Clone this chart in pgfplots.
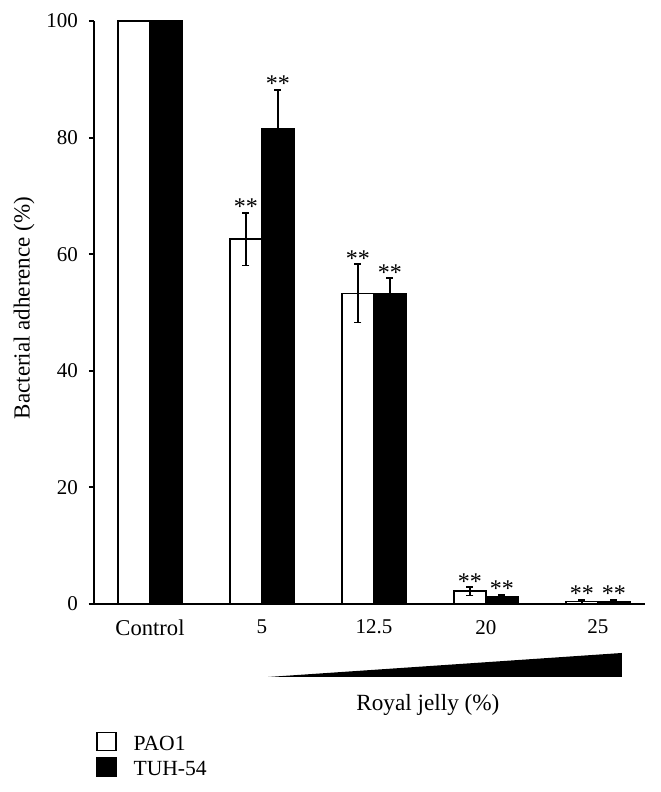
\documentclass[border=0pt]{standalone}
\usepackage{fontspec}
\setmainfont{Liberation Serif}
\usepackage{pgfplots}
\pgfplotsset{compat=1.18}

\begin{document}
\begin{tikzpicture}[font=\fontsize{10.5}{12}\selectfont]
\begin{axis}[
  at={(0,0)}, anchor=south west,
  scale only axis, width=275.5pt, height=291.5pt,
  xmin=-0.5, xmax=4.42, ymin=0, ymax=100,
  clip=false,
  axis x line=bottom, axis y line=left,
  axis line style={line width=1pt, -},
  x axis line style={shorten <=-2.5pt},
  ybar=0pt, bar width=16pt,
  xtick={0,1,2,3,4},
  xticklabels={{\fontsize{11.3}{12}\selectfont Control},5,12.5,20,25},
  xtick style={draw=none},
  ytick={0,20,40,60,80,100},
  tick align=outside,
  major tick length=2.5pt,
  y tick style={line width=1pt, black},
  /pgf/number format/assume math mode=true,
  tick label style={font=\fontsize{10.5}{12}\selectfont},
  yticklabel style={xshift=-2pt},
  xticklabel style={yshift=-2pt},
  xlabel={Royal jelly (\%)},
  every axis x label/.style={at={(axis description cs:0.606,-0.173)}, anchor=center,
    font=\fontsize{11.6}{13}\selectfont},
  legend cell align=left,
  legend style={at={(axis description cs:0.003,-0.2186)}, anchor=north west,
    draw=none, fill=none, inner sep=0pt, row sep=0pt,
    font=\fontsize{10.8}{12}\selectfont},
  legend image code/.code={\draw[#1, line width=0.75pt] (0pt,-3pt) rectangle (9.5pt,6pt);
    \path (16pt,1.5pt);},
  error bars/y dir=both, error bars/y explicit,
  error bars/error bar style={line width=0.75pt, black},
  error bars/error mark options={rotate=90, mark size=1.75pt, line width=0.75pt, black},
]
\addplot[draw=black, fill=white, line width=0.75pt] coordinates {
  (0,100) +- (0,0)
  (1,62.6) +- (0,4.5)
  (2,53.3) +- (0,5.0)
  (3,2.2) +- (0,0.7)
  (4,0.4) +- (0,0.3)
};
\addplot[draw=black, fill=black, line width=0.75pt] coordinates {
  (0,100) +- (0,0)
  (1,81.5) +- (0,6.7)
  (2,53.3) +- (0,2.6)
  (3,1.2) +- (0,0.35)
  (4,0.4) +- (0,0.3)
};
\legend{PAO1,TUH-54}
% significance marks
\begin{scope}[every node/.style={anchor=base, yshift=-1pt, font=\fontsize{12}{13}\selectfont}]
\node[xshift=-8pt] at (axis cs:1,67.1) {**};
\node[xshift=8pt] at (axis cs:1,88.2) {**};
\node[xshift=-8pt] at (axis cs:2,58.3) {**};
\node[xshift=8pt] at (axis cs:2,55.9) {**};
\node[xshift=-8pt] at (axis cs:3,2.9) {**};
\node[xshift=8pt] at (axis cs:3,1.55) {**};
\node[xshift=-8pt] at (axis cs:4,0.7) {**};
\node[xshift=8pt] at (axis cs:4,0.7) {**};
\end{scope}
% increasing dose wedge
\fill[black] (axis cs:1.054,-12.52) -- (axis cs:4.214,-12.52) -- (axis cs:4.214,-8.40) -- cycle;
\end{axis}
\node[rotate=90, font=\fontsize{11.5}{13}\selectfont] at (-35pt,148pt) {Bacterial adherence (\%)};
\pgfresetboundingbox
\path (-47pt,-94pt) rectangle (283pt,302pt);
\end{tikzpicture}
\end{document}
